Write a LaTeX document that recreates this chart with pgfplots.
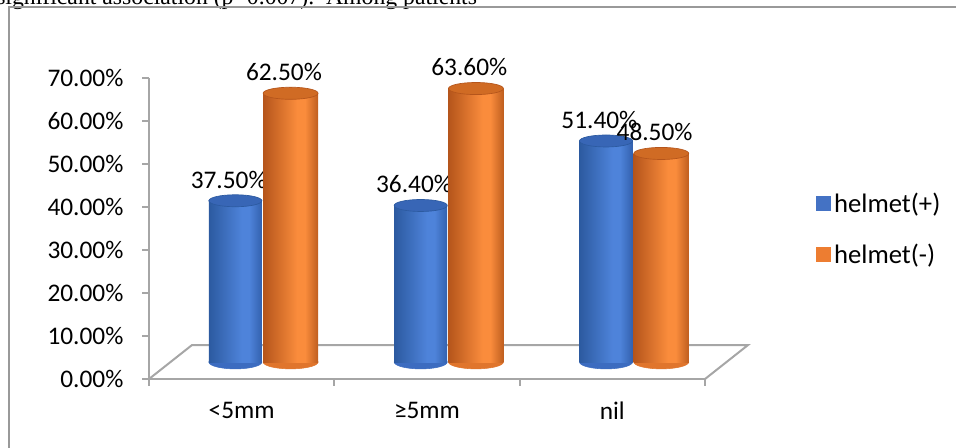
\documentclass[border=0pt]{standalone}
\usepackage{pgfplots}
\pgfplotsset{compat=1.18}
\usepackage{fontspec}
\setmainfont{Carlito}
\newfontfamily\timesf{Liberation Serif}
\definecolor{bD}{HTML}{2C5AA0}
\definecolor{bR}{HTML}{3361AE}
\definecolor{bL}{HTML}{4E83DA}
\definecolor{bT}{HTML}{3866B6}
\definecolor{bB}{HTML}{3C6CC0}
\definecolor{oD}{HTML}{B5551B}
\definecolor{oR}{HTML}{BF5E1F}
\definecolor{oL}{HTML}{FA8C3C}
\definecolor{oT}{HTML}{D06B24}
\definecolor{oB}{HTML}{E0752C}
\definecolor{legB}{HTML}{4472C4}
\definecolor{legO}{HTML}{ED7D31}
\definecolor{axgray}{HTML}{A6A6A6}
\pgfdeclarehorizontalshading{blueCyl}{100bp}{color(0bp)=(bD); color(25bp)=(bD); color(56bp)=(bL); color(63bp)=(bL); color(75bp)=(bR); color(100bp)=(bR)}
\pgfdeclarehorizontalshading{orangeCyl}{100bp}{color(0bp)=(oD); color(25bp)=(oD); color(56bp)=(oL); color(63bp)=(oL); color(75bp)=(oR); color(100bp)=(oR)}
\pgfplotsset{/pgf/number format/assume math mode=true}
\begin{document}
\begin{tikzpicture}[font=\fontsize{19}{22}\selectfont]
\path[use as bounding box] (0pt,0pt) rectangle (717pt,-335.25pt);
\node[anchor=base west, inner sep=0pt, font=\timesf\fontsize{17.8}{20}\selectfont] at (-3pt,-3pt) {significant association (p=0.007).\ \ Among patients};
\draw[color=gray!80, line width=1.1pt] (6.75pt,-345pt) -- (6.75pt,-5.25pt) -- (720pt,-5.25pt);

\begin{axis}[at={(111.75pt,-284.25pt)}, anchor=south west,
  width=417pt, height=225.75pt, scale only axis,
  xmin=0, xmax=3, ymin=0, ymax=70,
  axis x line*=bottom, axis y line*=left,
  axis line style={axgray, line width=1.5pt},
  ytick={0,10,...,70},
  yticklabel={\pgfmathprintnumber[fixed,fixed zerofill,precision=2]{\tick}\%},
  yticklabel style={anchor=east, inner sep=0pt, xshift=-14pt},
  tick align=outside, major tick length=5pt,
  tick style={axgray, line width=1.5pt},
  xtick={0,1,2,3}, xticklabels={,,,},
  extra x ticks={0.5,1.5,2.5},
  extra x tick labels={<5mm,≥5mm,nil},
  extra x tick style={major tick length=0pt},
  xticklabel style={anchor=north, inner sep=0pt, yshift=-17pt},
  clip=false]
\draw[axgray, line width=1.5pt] (axis cs:0,0) -- (axis cs:0.232,7.9) -- (axis cs:3.232,7.9) -- (axis cs:3,0);
\end{axis}

\begin{axis}[at={(127.875pt,-271.5pt)}, anchor=south west,
  width=417pt, height=225.75pt, scale only axis,
  xmin=0, xmax=3, ymin=0, ymax=70,
  hide axis, clip=false, clip marker paths=true,
  legend style={at={(1.1613,0.442)}, anchor=west, draw=none, fill=none,
    row sep=18pt, inner sep=0pt, nodes={inner sep=2pt},
    font=\fontsize{20}{23}\selectfont},
  legend cell align=left,
  legend image code/.code={\fill[#1] (0pt,-5.6pt) rectangle (11.25pt,5.6pt);},
  nodes near coords style={anchor=south, inner sep=0pt, yshift=9pt, xshift=-5pt, text=black, font=\fontsize{19}{22}\selectfont},
  bluebar/.style={forget plot, ybar, bar width=0.286, bar shift=0pt, draw=none, shading=blueCyl},
  orangebar/.style={forget plot, ybar, bar width=0.297, bar shift=0pt, draw=none, shading=orangeCyl}]
% bottom ellipses
\addplot[forget plot, only marks, mark=*, mark size=19.9pt, mark options={yscale=0.26, fill=bB, draw=bB}] coordinates {(0.35,0) (1.35,0) (2.35,0)};
\addplot[forget plot, only marks, mark=*, mark size=20.6pt, mark options={yscale=0.25, fill=oB, draw=oB}] coordinates {(0.648,0) (1.648,0) (2.648,0)};
% helmet(+) bars
\addplot[bluebar] coordinates {(0.35,37.5)};
\addplot[bluebar] coordinates {(1.35,36.4)};
\addplot[bluebar] coordinates {(2.35,51.4)};
\addplot[forget plot, only marks, mark=*, mark size=19.9pt, mark options={yscale=0.226, fill=bT, draw=bD, line width=0.5pt},
  nodes near coords={\pgfmathprintnumber[fixed,fixed zerofill,precision=2]{\pgfplotspointmeta}\%}] coordinates {(0.35,37.5) (1.35,36.4) (2.35,51.4)};
% helmet(-) bars
\addplot[orangebar] coordinates {(0.648,62.5)};
\addplot[orangebar] coordinates {(1.648,63.6)};
\addplot[orangebar] coordinates {(2.648,48.5)};
\addplot[forget plot, only marks, mark=*, mark size=20.6pt, mark options={yscale=0.22, fill=oT, draw=oD, line width=0.5pt},
  nodes near coords={\pgfmathprintnumber[fixed,fixed zerofill,precision=2]{\pgfplotspointmeta}\%}] coordinates {(0.648,62.5) (1.648,63.6) (2.648,48.5)};
\addlegendimage{fill=legB, draw=none}
\addlegendentry{helmet(+)}
\addlegendimage{fill=legO, draw=none}
\addlegendentry{helmet(-)}
\end{axis}
\end{tikzpicture}
\end{document}
